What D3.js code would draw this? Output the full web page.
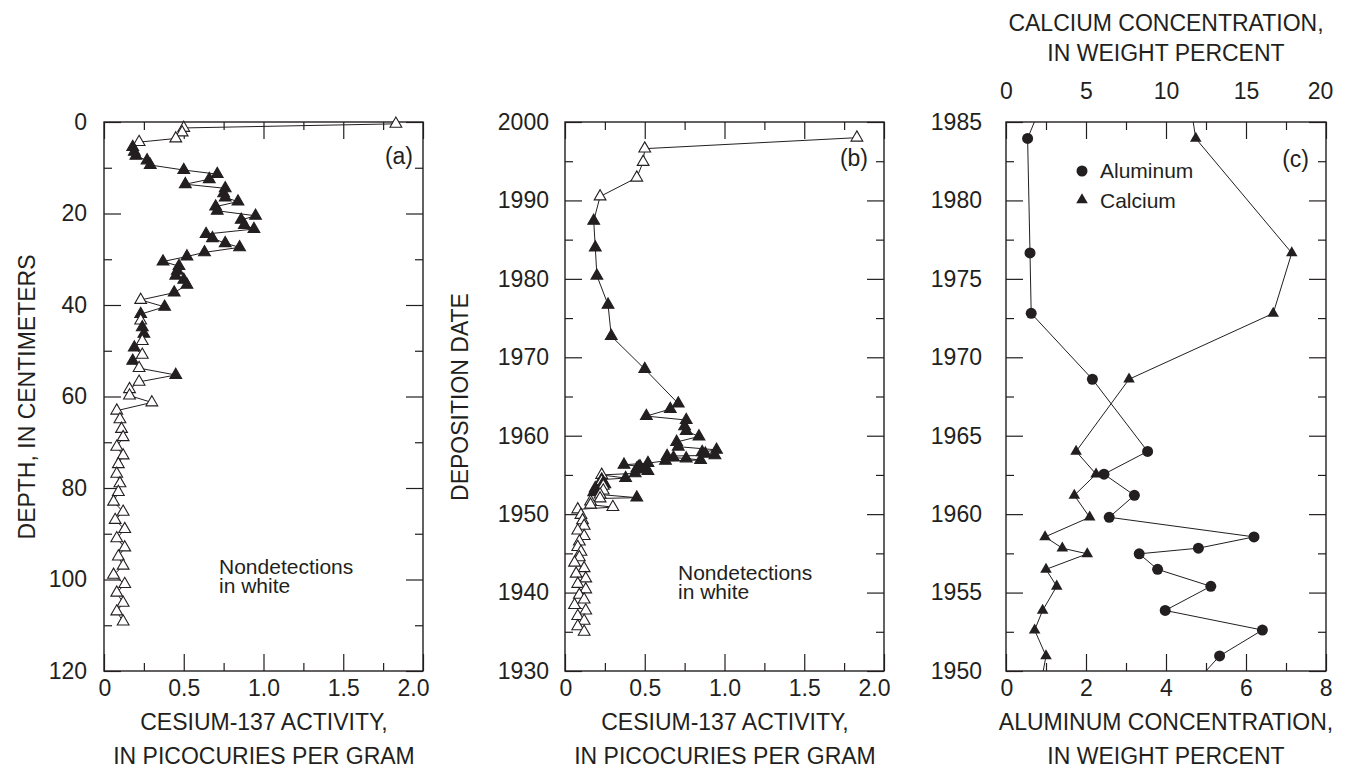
<!DOCTYPE html>
<html>
<head>
<meta charset="utf-8">
<script src="https://cdn.jsdelivr.net/npm/d3@7"></script>
<style>
  html, body { margin: 0; padding: 0; background: #fff; }
  svg { display: block; font-family: "Liberation Sans", Arial, Helvetica, sans-serif; }
</style>
</head>
<body>
<svg id="chart" width="1351" height="782"></svg>
<script>
// ---- Core samples: cesium-137 activity (pCi/g) ----
const cesiumActivity = [
  1.83, 0.50, 0.49, 0.45, 0.22,
  0.18, 0.19, 0.20, 0.27, 0.29, 0.50, 0.71, 0.66, 0.51, 0.76, 0.75, 0.76, 0.84, 0.70, 0.71,
  0.95, 0.86, 0.88, 0.94, 0.64, 0.68, 0.76, 0.85, 0.63, 0.52, 0.37, 0.47, 0.46, 0.45, 0.50, 0.52, 0.44,
  0.23, 0.38, 0.23, 0.23, 0.24, 0.25, 0.24, 0.19, 0.24, 0.18, 0.22, 0.45, 0.22, 0.16, 0.16, 0.30,
  0.08, 0.10, 0.11, 0.12, 0.08, 0.12, 0.09, 0.08, 0.10, 0.09, 0.06, 0.12, 0.07, 0.13, 0.08, 0.13,
  0.09, 0.12, 0.06, 0.13, 0.08, 0.12, 0.08, 0.12
];
// 1 = detected (filled), 0 = nondetection (white)
const cesiumDetected = [
  0, 0, 0, 0, 0,
  1, 1, 1, 1, 1, 1, 1, 1, 1, 1, 1, 1, 1, 1, 1,
  1, 1, 1, 1, 1, 1, 1, 1, 1, 1, 1, 1, 1, 1, 1, 1, 1,
  0, 1, 1, 0, 1, 1, 0, 1, 0, 1, 0, 1, 0, 0, 0, 0,
  0, 0, 0, 0, 0, 0, 0, 0, 0, 0, 0, 0, 0, 0, 0, 0,
  0, 0, 0, 0, 0, 0, 0, 0
];
const sampleDepthCm = [
  0.4, 1.3, 2.3, 3.6, 4.4,
  5.5, 6.5, 7.4, 8.4, 9.4, 10.5, 11.4, 12.5, 13.6, 14.5, 15.6, 16.5, 17.4, 18.5, 19.4,
  20.5, 21.4, 22.5, 23.4, 24.5, 25.4, 26.5, 27.4, 28.5, 29.4, 30.5, 31.5, 32.5, 33.6, 34.5, 35.6, 37.3,
  38.9, 40.4, 42.0, 43.4, 44.9, 46.3, 47.9, 49.3, 50.9, 52.2, 53.8, 55.3, 56.8, 58.4, 59.8, 61.3,
  63.1, 65.0, 67.1, 68.9, 71.0, 72.9, 74.8, 76.9, 79.0, 80.9, 83.0, 85.2, 87.0, 89.0, 91.0, 93.0,
  95.0, 97.0, 99.0, 101.0, 102.9, 105.1, 107.0, 109.2
];
const sampleYear = [
  1998.0, 1996.6, 1994.9, 1992.9, 1990.5,
  1987.4, 1984.0, 1980.4, 1976.7, 1972.7, 1968.5, 1964.1, 1963.4, 1962.5, 1962.0, 1961.2, 1960.6, 1959.9, 1959.2, 1958.6,
  1958.2, 1957.9, 1957.7, 1957.5, 1957.4, 1957.2, 1957.1, 1956.9, 1956.8, 1956.5, 1956.3, 1956.1, 1956.0, 1955.8, 1955.7, 1955.5, 1955.2,
  1955.0, 1954.6, 1954.4, 1954.2, 1954.0, 1953.8, 1953.6, 1953.3, 1953.0, 1952.8, 1952.5, 1952.1, 1952.0, 1951.6, 1951.2, 1950.9,
  1950.6, 1949.9, 1949.2, 1948.5, 1947.9, 1947.2, 1946.5, 1945.8, 1945.2, 1944.5, 1943.8, 1943.1, 1942.4, 1941.8, 1941.1, 1940.4,
  1939.7, 1939.1, 1938.4, 1937.7, 1937.0, 1936.4, 1935.7, 1935.0
];

// ---- Major elements (weight percent) by deposition date ----
const elementYear = [1987.0, 1983.95, 1976.65, 1972.8, 1968.6, 1964.0, 1962.55, 1961.2, 1959.8,
                     1958.55, 1957.83, 1957.47, 1956.48, 1955.4, 1953.86, 1952.61, 1950.96, 1949.3];
const aluminumPct = [1.03, 0.54, 0.60, 0.63, 2.16, 3.54, 2.45, 3.21, 2.58,
                     6.20, 4.81, 3.33, 3.79, 5.12, 3.98, 6.41, 5.34, 4.75];
const calciumPct  = [11.4, 11.86, 17.86, 16.7, 7.69, 4.38, 5.63, 4.27, 5.23,
                     2.44, 3.52, 5.08, 2.50, 3.17, 2.29, 1.79, 2.50, 2.20];

// ---- Tick values ----
const cesiumTicks = [0, 0.5, 1.0, 1.5, 2.0];
const cesiumMinorTicks = [0.25, 0.75, 1.25, 1.75];
const depthTicks = [0, 20, 40, 60, 80, 100, 120];
const depthMinorTicks = [10, 30, 50, 70, 90, 110];
const dateTicksB = [1930, 1940, 1950, 1960, 1970, 1980, 1990, 2000];
const dateMinorTicksB = [1935, 1945, 1955, 1965, 1975, 1985, 1995];
const dateTicksC = [1950, 1955, 1960, 1965, 1970, 1975, 1980, 1985];
const dateMinorTicksC = [1952.5, 1957.5, 1962.5, 1967.5, 1972.5, 1977.5, 1982.5];
const aluminumTicks = [0, 2, 4, 6, 8];
const aluminumMinorTicks = [1, 3, 5, 7];
const calciumTicks = [0, 5, 10, 15, 20];
const calciumMinorTicks = [2.5, 7.5, 12.5, 17.5];

const svg = d3.select("#chart");
const FONT = 23;
const MAJOR = 17, MINOR = 8;
const plotTop = 122, plotBottom = 671;

// Plot frames
const xA = d3.scaleLinear([0, 2], [104, 423]);
const yA = d3.scaleLinear([0, 120], [plotTop, plotBottom]);
const xB = d3.scaleLinear([0, 2], [565, 884]);
const yB = d3.scaleLinear([2000, 1930], [plotTop, plotBottom]);
const xAl = d3.scaleLinear([0, 8], [1006, 1326]);
const xCa = d3.scaleLinear([0, 20], [1006, 1326]);
const yC = d3.scaleLinear([1985, 1950], [plotTop, plotBottom]);

function styleAxis(g) {
  g.select(".domain").remove();
  g.selectAll(".tick line").attr("stroke", "#231f20").attr("stroke-width", 1.2);
  g.selectAll(".tick text").attr("fill", "#231f20").attr("font-size", FONT).attr("font-family", null);
}

// Inward-pointing ticks on all four sides, labels on the left and bottom
function frame(x, y, o) {
  const [x0, x1] = x.range(), [y0, y1] = y.range();
  const g = svg.append("g");
  // bottom
  g.append("g").attr("transform", `translate(0,${y1})`)
    .call(d3.axisBottom(x).tickValues(o.xMinor).tickSize(-MINOR).tickFormat("")).call(styleAxis);
  const bx = g.append("g").attr("transform", `translate(0,${y1})`)
    .call(d3.axisBottom(x).tickValues(o.xMajor).tickSize(-MAJOR).tickPadding(o.xPad).tickFormat(o.xFmt)).call(styleAxis);
  if (o.edgeAnchor) {
    const t = bx.selectAll(".tick text");
    t.filter((d, i) => i === 0).attr("text-anchor", "start").attr("dx", -6);
    t.filter((d, i, n) => i === n.length - 1).attr("text-anchor", "end").attr("dx", 6);
  }
  // top
  g.append("g").attr("transform", `translate(0,${y0})`)
    .call(d3.axisTop(x).tickValues(o.xMinor).tickSize(-MINOR).tickFormat("")).call(styleAxis);
  g.append("g").attr("transform", `translate(0,${y0})`)
    .call(d3.axisTop(x).tickValues(o.xMajor).tickSize(-MAJOR).tickFormat("")).call(styleAxis);
  // left
  g.append("g").attr("transform", `translate(${x0},0)`)
    .call(d3.axisLeft(y).tickValues(o.yMinor).tickSize(-MINOR).tickFormat("")).call(styleAxis);
  g.append("g").attr("transform", `translate(${x0},0)`)
    .call(d3.axisLeft(y).tickValues(o.yMajor).tickSize(-MAJOR).tickPadding(o.yPad).tickFormat(o.yFmt)).call(styleAxis);
  // right
  g.append("g").attr("transform", `translate(${x1},0)`)
    .call(d3.axisRight(y).tickValues(o.yMinor).tickSize(-MINOR).tickFormat("")).call(styleAxis);
  g.append("g").attr("transform", `translate(${x1},0)`)
    .call(d3.axisRight(y).tickValues(o.yMajor).tickSize(-MAJOR).tickFormat("")).call(styleAxis);
  // box
  g.append("rect").attr("x", x0).attr("y", y0).attr("width", x1 - x0).attr("height", y1 - y0)
    .attr("fill", "none").attr("stroke", "#231f20").attr("stroke-width", 1.4);
  return g;
}

function label(x, y, lines, opts = {}) {
  const t = svg.append("text")
    .attr("x", x).attr("y", y)
    .attr("text-anchor", opts.anchor || "middle")
    .attr("font-size", opts.size || FONT)
    .attr("fill", "#231f20");
  if (opts.rotate) t.attr("transform", `rotate(-90,${x},${y})`);
  lines.forEach((s, i) => t.append("tspan").attr("x", x).attr("dy", i === 0 ? "0.35em" : (opts.lh || 1.5) + "em").text(s));
  return t;
}

const cesiumFmt = d => d === 0 ? "0" : d3.format(".1f")(d);
const triangle = d3.symbol().type(d3.symbolTriangle).size(60);

// ---------- Panel (a): cesium vs depth ----------
frame(xA, yA, {
  xMajor: cesiumTicks, xMinor: cesiumMinorTicks, xFmt: cesiumFmt, xPad: 9, edgeAnchor: true,
  yMajor: depthTicks, yMinor: depthMinorTicks, yFmt: d3.format("d"), yPad: 17
});
const idx = d3.range(cesiumActivity.length);
svg.append("path")
  .attr("d", d3.line().x(i => xA(cesiumActivity[i])).y(i => yA(sampleDepthCm[i]))(idx))
  .attr("fill", "none").attr("stroke", "#231f20").attr("stroke-width", 1);
svg.append("g").selectAll("path").data(idx).join("path")
  .attr("d", triangle)
  .attr("transform", i => `translate(${xA(cesiumActivity[i])},${yA(sampleDepthCm[i])})`)
  .attr("fill", i => cesiumDetected[i] ? "#231f20" : "#fff")
  .attr("stroke", "#231f20").attr("stroke-width", 1.1);
label(413, 156, ["(a)"], { anchor: "end" });
label(219, 567, ["Nondetections"], { anchor: "start", size: 21 });
label(219, 586, ["in white"], { anchor: "start", size: 21 });
label(264, 722, ["CESIUM-137 ACTIVITY,", "IN PICOCURIES PER GRAM"], { lh: 1.48 });
label(27, 397, ["DEPTH, IN CENTIMETERS"], { rotate: true });

// ---------- Panel (b): cesium vs deposition date ----------
frame(xB, yB, {
  xMajor: cesiumTicks, xMinor: cesiumMinorTicks, xFmt: cesiumFmt, xPad: 9, edgeAnchor: true,
  yMajor: dateTicksB, yMinor: dateMinorTicksB, yFmt: d3.format("d"), yPad: 16
});
svg.append("path")
  .attr("d", d3.line().x(i => xB(cesiumActivity[i])).y(i => yB(sampleYear[i]))(idx))
  .attr("fill", "none").attr("stroke", "#231f20").attr("stroke-width", 1);
svg.append("g").selectAll("path").data(idx).join("path")
  .attr("d", triangle)
  .attr("transform", i => `translate(${xB(cesiumActivity[i])},${yB(sampleYear[i])})`)
  .attr("fill", i => cesiumDetected[i] ? "#231f20" : "#fff")
  .attr("stroke", "#231f20").attr("stroke-width", 1.1);
label(868, 158, ["(b)"], { anchor: "end" });
label(678, 573, ["Nondetections"], { anchor: "start", size: 21 });
label(678, 592, ["in white"], { anchor: "start", size: 21 });
label(725, 722, ["CESIUM-137 ACTIVITY,", "IN PICOCURIES PER GRAM"], { lh: 1.48 });
label(460, 397, ["DEPOSITION DATE"], { rotate: true });

// ---------- Panel (c): aluminum and calcium vs deposition date ----------
frame(xAl, yC, {
  xMajor: aluminumTicks, xMinor: aluminumMinorTicks, xFmt: d3.format("d"), xPad: 9, edgeAnchor: true,
  yMajor: dateTicksC, yMinor: dateMinorTicksC, yFmt: d3.format("d"), yPad: 24
});
// calcium scale labels along the top
const caAxis = svg.append("g").attr("transform", `translate(0,${plotTop})`)
  .call(d3.axisTop(xCa).tickValues(calciumTicks).tickSize(0).tickPadding(23).tickFormat(d3.format("d")))
  .call(styleAxis);
caAxis.selectAll(".tick text").filter((d, i, n) => i === n.length - 1).attr("dx", -6);

svg.append("clipPath").attr("id", "clip-c")
  .append("rect").attr("x", 1006).attr("y", plotTop).attr("width", 320).attr("height", plotBottom - plotTop);
const eIdx = d3.range(elementYear.length);
const plotC = svg.append("g").attr("clip-path", "url(#clip-c)");
plotC.append("path")
  .attr("d", d3.line().x(i => xAl(aluminumPct[i])).y(i => yC(elementYear[i]))(eIdx))
  .attr("fill", "none").attr("stroke", "#231f20").attr("stroke-width", 1);
plotC.append("path")
  .attr("d", d3.line().x(i => xCa(calciumPct[i])).y(i => yC(elementYear[i]))(eIdx))
  .attr("fill", "none").attr("stroke", "#231f20").attr("stroke-width", 1);
plotC.append("g").selectAll("circle").data(eIdx).join("circle")
  .attr("cx", i => xAl(aluminumPct[i])).attr("cy", i => yC(elementYear[i]))
  .attr("r", 5.5).attr("fill", "#231f20");
plotC.append("g").selectAll("path").data(eIdx).join("path")
  .attr("d", d3.symbol().type(d3.symbolTriangle).size(58))
  .attr("transform", i => `translate(${xCa(calciumPct[i])},${yC(elementYear[i])})`)
  .attr("fill", "#231f20");

// legend
svg.append("circle").attr("cx", 1082).attr("cy", 171).attr("r", 5.5).attr("fill", "#231f20");
svg.append("path").attr("d", d3.symbol().type(d3.symbolTriangle).size(58))
  .attr("transform", "translate(1082,200)").attr("fill", "#231f20");
label(1100, 171, ["Aluminum"], { anchor: "start", size: 21 });
label(1100, 201, ["Calcium"], { anchor: "start", size: 21 });

label(1309, 159, ["(c)"], { anchor: "end" });
label(1166, 722, ["ALUMINUM CONCENTRATION,", "IN WEIGHT PERCENT"], { lh: 1.48 });
label(1166, 23, ["CALCIUM CONCENTRATION,", "IN WEIGHT PERCENT"], { lh: 1.3 });
</script>
</body>
</html>
